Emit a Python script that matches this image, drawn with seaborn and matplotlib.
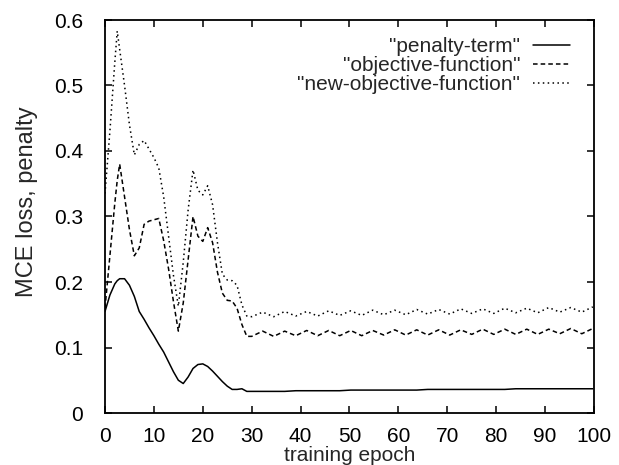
import numpy as np
import pandas as pd
import matplotlib
matplotlib.use("Agg")
import matplotlib.pyplot as plt
import seaborn as sns

# ---------------- data ----------------
epoch = [0, 1, 2, 2.5, 3, 4, 5, 6, 7, 8, 9, 10, 11, 12, 13, 14, 15, 16, 17, 18,
         19, 20, 21, 22, 23, 24, 25, 26, 27, 28, 29,
         30, 32.25, 34.5, 36.75, 39, 41.25, 43.5, 45.75, 48, 50.25, 52.5, 54.75,
         57, 59.25, 61.5, 63.75, 66, 68.25, 70.5, 72.75, 75, 77.25, 79.5, 81.75,
         84, 86.25, 88.5, 90.75, 93, 95.25, 97.5, 99.75]

penalty_term = [0.155, 0.180, 0.197, 0.202, 0.205, 0.205, 0.195, 0.178, 0.155, 0.143,
                0.130, 0.118, 0.105, 0.093, 0.078, 0.063, 0.050, 0.045, 0.055, 0.068,
                0.074, 0.075, 0.071, 0.064, 0.056, 0.048, 0.041, 0.036, 0.036, 0.037,
                0.033,
                0.033, 0.033, 0.033, 0.033, 0.034, 0.034, 0.034, 0.034, 0.034, 0.035,
                0.035, 0.035, 0.035, 0.035, 0.035, 0.035, 0.036, 0.036, 0.036, 0.036,
                0.036, 0.036, 0.036, 0.036, 0.037, 0.037, 0.037, 0.037, 0.037, 0.037,
                0.037, 0.037]

objective_function = [0.160, 0.240, 0.320, 0.355, 0.380, 0.330, 0.280, 0.240, 0.252, 0.288,
                      0.293, 0.295, 0.297, 0.263, 0.220, 0.170, 0.125, 0.168, 0.234, 0.300,
                      0.270, 0.262, 0.283, 0.260, 0.215, 0.183, 0.172, 0.171, 0.160, 0.135,
                      0.117,
                      0.117, 0.125, 0.117, 0.125, 0.118, 0.126, 0.118, 0.126, 0.118, 0.126,
                      0.118, 0.126, 0.119, 0.127, 0.119, 0.127, 0.119, 0.127, 0.119, 0.127,
                      0.120, 0.128, 0.120, 0.128, 0.120, 0.128, 0.120, 0.128, 0.121, 0.129,
                      0.121, 0.129]

new_objective_function = [0.335, 0.430, 0.535, 0.583, 0.555, 0.500, 0.440, 0.394, 0.410, 0.416,
                          0.403, 0.390, 0.374, 0.330, 0.270, 0.210, 0.163, 0.230, 0.310, 0.371,
                          0.340, 0.333, 0.347, 0.318, 0.260, 0.212, 0.203, 0.202, 0.195, 0.165,
                          0.148,
                          0.147, 0.154, 0.147, 0.155, 0.148, 0.155, 0.148, 0.156, 0.149, 0.156,
                          0.149, 0.157, 0.150, 0.157, 0.150, 0.158, 0.151, 0.158, 0.151, 0.159,
                          0.152, 0.159, 0.152, 0.160, 0.153, 0.160, 0.153, 0.161, 0.154, 0.161,
                          0.154, 0.162]

series_names = ['"penalty-term"', '"objective-function"', '"new-objective-function"']
x_ticks = [0, 10, 20, 30, 40, 50, 60, 70, 80, 90, 100]
y_ticks = [0, 0.1, 0.2, 0.3, 0.4, 0.5, 0.6]
y_tick_labels = ["0", "0.1", "0.2", "0.3", "0.4", "0.5", "0.6"]

df = pd.concat([
    pd.DataFrame({"epoch": epoch, "value": vals, "series": name})
    for name, vals in zip(series_names,
                          [penalty_term, objective_function, new_objective_function])
], ignore_index=True)

# ---------------- style ----------------
sns.set_style("ticks")
plt.rcParams["font.family"] = ["Liberation Sans", "DejaVu Sans"]

fig = plt.figure(figsize=(6.19, 4.65), dpi=100)
ax = fig.add_axes([105 / 619, 1 - 413 / 465, (594 - 105) / 619, (413 - 20) / 465])

dash_map = {
    series_names[0]: "",
    series_names[1]: (3, 2),
    series_names[2]: (1, 2.2),
}
sns.lineplot(data=df, x="epoch", y="value", style="series", dashes=dash_map,
             color="black", linewidth=1.1, errorbar=None, ax=ax,
             style_order=series_names)

ax.set_xlim(0, 100)
ax.set_ylim(0, 0.6)
ax.set_xticks(x_ticks)
ax.set_xticklabels([str(t) for t in x_ticks])
ax.set_yticks(y_ticks)
ax.set_yticklabels(y_tick_labels)

ax.tick_params(axis="both", which="both", direction="in", length=5, width=1.1,
               top=True, right=True, labelsize=15, colors="black")
ax.tick_params(axis="x", pad=10)
ax.tick_params(axis="y", pad=16)
for sp in ax.spines.values():
    sp.set_visible(True)
    sp.set_linewidth(1.3)
    sp.set_color("black")

ax.set_xlabel("training epoch", fontsize=15, labelpad=0)
ax.set_ylabel("MCE loss, penalty", fontsize=17)
ax.yaxis.set_label_coords((38 - 105) / 489, (413 - 202) / 393)

handles, labels = ax.get_legend_handles_labels()
leg = ax.legend(handles, labels, loc="upper right", bbox_to_anchor=(0.951, 0.957),
                frameon=False, markerfirst=False, fontsize=15,
                handlelength=1.8, handletextpad=0.6, labelspacing=0.0,
                borderaxespad=0, borderpad=0)

fig.savefig("out.png", dpi=100, facecolor="white")
